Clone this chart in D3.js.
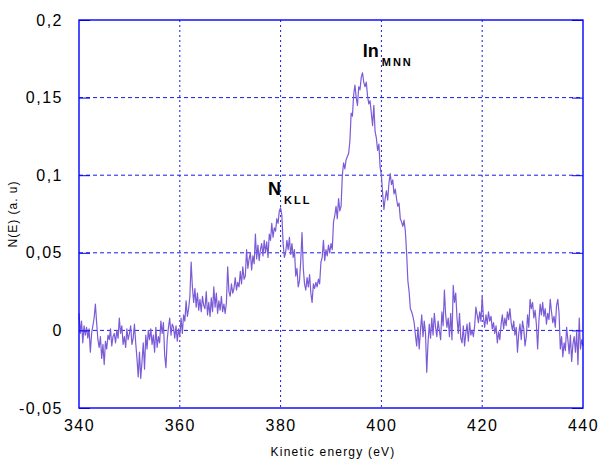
<!DOCTYPE html>
<html>
<head>
<meta charset="utf-8">
<script src="https://cdn.jsdelivr.net/npm/d3@7"></script>
<style>
  body { margin: 0; background: #fff; }
  text { font-family: "Liberation Sans", Arial, sans-serif; }
</style>
</head>
<body>
<div id="chart"></div>
<script>
// spectrum: start energy, step (eV), N(E) values in 1e-3 a.u.
const eStart = 340;
const eStep = 0.25;
const signal = [
  11, -2, 6, -8,   3, -3, 2, -5,   1, -14, -2, 3,   8, 17, 5, -6,   -11, -4, -18, -9,
  -22, -7, -12, -3,   -6, 1, -10, -4,   -2, -8, 0, -5,   8, -2, 3, -9,   -4, -11, 1, -6,
  -2, 3, -9, -5,   4, -8, -18, -30,   -14, -31, -20, -8,   -25, -3, -12, 0,   -6, 1, -9, -3,
  -14, 2, -11, -4,   -8, 6, -2, 5,   -16, -24, -6, 2,   8, -3, 4, 2,   -5, 3, -7, 1,
  -4, 8, -2, 10,   6, 19, 9, 14,   22, 44, 28, 18,   27, 15, 24, 13,   20, 12, 22, 16,
  14, 25, 10, 18,   9, 21, 12, 28,   15, 24, 11, 19,   13, 22, 12, 17,   11, 18, 41, 25,
  22, 30, 24, 27,   34, 26, 31, 28,   38, 30, 41, 33,   35, 52, 40, 46,   50, 39, 48, 43,
  62, 46, 55, 45,   52, 56, 48, 58,   50, 57, 47, 62,   58, 69, 60, 66,   64, 72, 69, 77,
  79, 74, 56, 47,   50, 58, 52, 60,   49, 56, 47, 52,   35, 40, 28, 32,   45, 63, 40, 30,
  26, 34, 28, 36,   24, 18, 30, 27,   31, 28, 33, 30,   44, 47, 58, 45,   52, 48, 55, 50,
  56, 52, 70, 74,   80, 72, 85, 77,   80, 100, 108, 104,   110, 112, 114, 122,   140, 138, 152, 158,
  150, 145, 157, 155,   163, 166, 160, 157,   160, 151, 146, 148,   140, 132, 145, 128,   124, 116, 120, 105,
  100, 88, 78, 85,   90, 84, 95, 101,   94, 97, 88, 91,   85, 80, 82, 72,   70, 67, 71, 64,
  50, 32, 25, 14,   12, 9, 5, -3,   -10, 2, -12, 0,   10, -4, 6, -2,   -27, -8, 4, -5,
  8, -3, 11, 2,   -4, 6, 0, -6,   12, 3, 26, 10,   2, 8, -4, 11,   -6, 29, 18, 24,
  8, -2, 11, -5,   -8, 3, -10, -2,   4, -7, 5, -3,   0, -4, 3, 15,   10, 5, 12, 6,
  22, 8, 2, 10,   4, 12, 6, 9,   1, 5, -2, 3,   -8, -1, -6, 4,   10, 1, 8, 3,
  12, 7, 14, 5,   0, 6, -3, 2,   -14, -2, 4, -6,   6, 1, -10, -4,   10, 2, 20, 14,
  18, 8, 13, 4,   -12, 6, 17, 10,   18, 9, 14, 4,   11, 7, 20, 12,   5, 9, 2, 16,
  20, 11, -12, -4,   -17, -8, -13, 2,   -6, -15, -3, -20,   -9, -4, -14, -1,   -22, 8, -12, -6,
  -10
];

const xTicks = [340, 360, 380, 400, 420, 440];
const yTicks = [-0.05, 0, 0.05, 0.1, 0.15, 0.2];
const yTickLabels = ["-0,05", "0", "0,05", "0,1", "0,15", "0,2"];

const peaks = [
  { name: "N", sub: "KLL", e: 377.5, v: 0.0875 },
  { name: "In", sub: "MNN", e: 396.3, v: 0.176 }
];

const margin = { top: 20, right: 15, bottom: 54, left: 79 },
      width = 598 - margin.left - margin.right,
      height = 462 - margin.top - margin.bottom;

const svg = d3.select("#chart")
  .append("svg")
  .attr("width", 598)
  .attr("height", 462)
  .append("g")
  .attr("transform", `translate(${margin.left},${margin.top})`);

const x = d3.scaleLinear().domain([340, 440]).range([0, width]);
const y = d3.scaleLinear().domain([-0.05, 0.2]).range([height, 0]);

const gridColor = "#1a1ae6";

// grid lines
svg.selectAll(".hgrid")
  .data(yTicks.slice(1, -1))
  .enter()
  .append("line")
  .attr("x1", 0).attr("x2", width)
  .attr("y1", d => y(d)).attr("y2", d => y(d))
  .attr("stroke", gridColor)
  .attr("stroke-width", 1)
  .attr("stroke-dasharray", "4,3");

svg.selectAll(".vgrid")
  .data(xTicks.slice(1, -1))
  .enter()
  .append("line")
  .attr("x1", d => x(d)).attr("x2", d => x(d))
  .attr("y1", 0).attr("y2", height)
  .attr("stroke", gridColor)
  .attr("stroke-width", 1)
  .attr("stroke-dasharray", "2,3");

// spectrum
const line = d3.line()
  .x((d, i) => x(eStart + i * eStep))
  .y(d => y(d / 1000));

svg.append("path")
  .datum(signal)
  .attr("fill", "none")
  .attr("stroke", "#7b5cd6")
  .attr("stroke-width", 1.2)
  .attr("stroke-linejoin", "round")
  .attr("d", line);

// frame
svg.append("rect")
  .attr("width", width)
  .attr("height", height)
  .attr("fill", "none")
  .attr("stroke", "#0000ff")
  .attr("stroke-width", 1.4);

// inward ticks left and right
svg.append("g")
  .call(d3.axisLeft(y).tickValues(yTicks).tickSize(-11).tickFormat(""))
  .call(g => g.select(".domain").remove())
  .selectAll("line").attr("stroke", "#0000ff");

svg.append("g")
  .attr("transform", `translate(${width},0)`)
  .call(d3.axisRight(y).tickValues(yTicks).tickSize(-11).tickFormat(""))
  .call(g => g.select(".domain").remove())
  .selectAll("line").attr("stroke", "#0000ff");

// tick labels
svg.append("g")
  .call(d3.axisLeft(y).tickValues(yTicks).tickSize(0).tickPadding(16)
    .tickFormat((d, i) => yTickLabels[i]))
  .call(g => g.select(".domain").remove())
  .selectAll("text")
  .attr("font-size", 16)
  .attr("fill", "#000")
  .style("letter-spacing", "1.5px");

svg.append("g")
  .attr("transform", `translate(0,${height})`)
  .call(d3.axisBottom(x).tickValues(xTicks).tickSize(0).tickPadding(12))
  .call(g => g.select(".domain").remove())
  .selectAll("text")
  .attr("font-size", 16)
  .attr("fill", "#000")
  .style("letter-spacing", "1.5px");

// axis titles
svg.append("text")
  .attr("x", 254)
  .attr("y", height + 48)
  .attr("text-anchor", "middle")
  .attr("font-size", 12)
  .style("letter-spacing", "1.2px")
  .text("Kinetic energy (eV)");

svg.append("text")
  .attr("transform", `translate(${17 - margin.left},${214 - margin.top}) rotate(-90)`)
  .attr("text-anchor", "middle")
  .attr("font-size", 12)
  .style("letter-spacing", "1px")
  .text("N(E) (a. u)");

// peak labels
const lab = svg.selectAll(".peak")
  .data(peaks)
  .enter()
  .append("text")
  .attr("x", d => x(d.e))
  .attr("y", d => y(d.v))
  .attr("font-weight", "bold")
  .attr("font-size", 18);

lab.append("tspan").text(d => d.name);
lab.append("tspan")
  .attr("dx", 3)
  .attr("dy", 9)
  .attr("font-size", 11)
  .style("letter-spacing", "2px")
  .text(d => d.sub);
</script>
</body>
</html>
